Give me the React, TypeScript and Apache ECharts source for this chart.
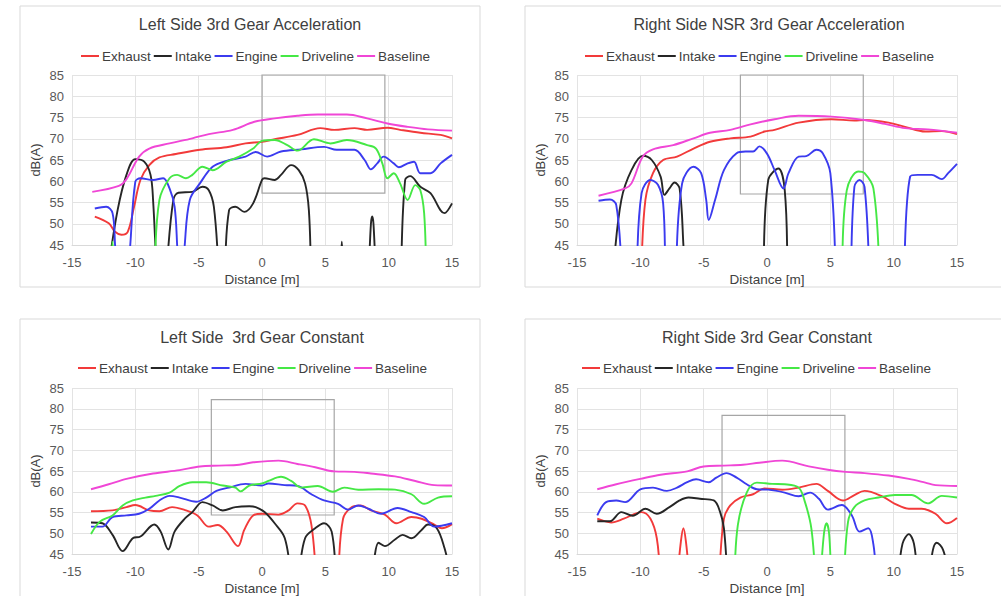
import React, { useEffect, useRef } from 'react';
import * as echarts from 'echarts';

type P = [number, number] | null;

const seriesNames = ['Exhaust', 'Intake', 'Engine', 'Driveline', 'Baseline'];
const seriesColors = ['#f23a3a', '#262626', '#3b3bef', '#45e845', '#f046d6'];
const panelTitles = [
  'Left Side 3rd Gear Acceleration',
  'Right Side NSR 3rd Gear Acceleration',
  'Left Side  3rd Gear Constant',
  'Right Side 3rd Gear Constant',
];
const xMin = -15, xMax = 15, xStep = 5;
const yMin = 45, yMax = 85, yStep = 5;

// highlight boxes [x1, y1, x2, y2]
const boxes: number[][] = [
  [0, 85, 9.7, 57.2],
  [-2.1, 85, 7.6, 57],
  [-4.0, 82.2, 5.7, 54.4],
  [-3.55, 78.4, 6.15, 50.6],
];

// ---------- Panel 1: Left Side 3rd Gear Acceleration ----------
const exhaust1: P[] = [[-13.2,51.7],[-12.1,50.1],[-11.6,48.1],[-11.1,47.4],[-10.6,48.1],[-10.1,54],[-9.6,60.3],[-8.9,63.8],[-8.1,65.6],[-6.8,66.4],[-4.9,67.4],[-2.8,68],[-1.3,68.9],[0,69.3],[1,69.9],[2.8,70.9],[4.6,72.5],[5.7,72.1],[7.3,72.5],[8.3,72.1],[9.9,72.6],[10.9,72.1],[12.5,71.4],[14.1,70.9],[15,70.1]];
const intake1: P[] = [[-12.1,40],[-11.4,53.2],[-10.7,61.5],[-10,65.2],[-9.3,64.6],[-8.8,61.5],[-8.6,55.6],[-8.35,40],null,[-7.5,40],[-7,55.6],[-6.6,57.3],[-5.5,57.5],[-4.7,58.7],[-4.2,57.9],[-3.8,54],[-3.45,40],null,[-2.9,40],[-2.6,53.2],[-2.1,54],[-1.4,52.8],[-0.7,54.8],[0,60.3],[0.2,60.7],[1,60.3],[1.5,61.5],[2.3,63.8],[2.9,62.6],[3.4,59.5],[3.7,53.2],[3.85,40],null,[6.2,40],[6.3,45.8],[6.4,40],null,[8.45,40],[8.6,50],[8.7,51.7],[8.8,50],[8.95,40],null,[11,40],[11.3,60.3],[11.7,61.2],[12.5,58.7],[13.3,57.2],[14.4,52.5],[15,54.8]];
const engine1: P[] = [[-13.2,53.6],[-12.3,54],[-11.8,52.5],[-11.6,45],[-11.5,40],null,[-10.5,40],[-10.4,45],[-10,59.9],[-9.6,60.7],[-8.6,60.3],[-7.8,60.7],[-7.3,58.3],[-6.9,54],[-6.7,45],[-6.65,40],null,[-6.15,40],[-6.1,45],[-5.7,55.6],[-4.9,59.5],[-3.9,63.4],[-2.8,64.8],[-1.3,65.8],[-0.5,66.9],[0.4,65.8],[1.5,67],[3.1,67.5],[4.9,68.1],[5.9,67.4],[7.3,67.4],[8.1,65],[8.6,62.8],[9.1,64.2],[9.6,65.8],[10.4,64.2],[10.8,63.3],[11.5,64.2],[12,64.6],[12.5,61.9],[13.3,61.9],[14.1,64.2],[15,66.2]];
const driveline1: P[] = [[-11.9,40],[-11.8,45.8],[-11.7,40],null,[-8.45,40],[-8.1,55.6],[-7.3,60.7],[-6.7,61.5],[-6,60.7],[-5.5,61.5],[-4.7,63.4],[-3.9,62.6],[-2.8,64.6],[-1.8,65.8],[-0.7,67.7],[0,69.5],[1,69.7],[2,68.5],[2.8,67.2],[4.1,69.9],[5.4,68.9],[6.7,69.7],[8.3,68.5],[9,67.7],[9.5,64.2],[9.9,60.7],[10.4,61.9],[10.9,59.5],[11.5,55.6],[12.1,59.1],[12.5,57.9],[12.8,52.5],[12.95,40]];
const baseline1: P[] = [[-13.4,57.5],[-11.3,58.9],[-10.7,60.5],[-9.7,65.8],[-8.9,67.7],[-7.3,68.9],[-5.5,70.1],[-4.2,71.1],[-2.3,72.1],[-0.6,74],[1,74.8],[2.8,75.4],[4.4,75.7],[6.7,75.7],[8.3,74.8],[9.9,73.6],[11.5,72.8],[13.1,72.2],[15,71.9]];

// ---------- Panel 2: Right Side NSR 3rd Gear Acceleration ----------
const exhaust2: P[] = [[-9.9,40],[-9.6,55.6],[-9,61.9],[-8.2,65],[-7.1,65.8],[-5.8,67.7],[-4.5,69.3],[-2.9,70.1],[-1.3,70.5],[-0.2,71.7],[0.6,72.1],[2.5,73.8],[5.1,74.6],[6.9,74.3],[7.7,74.4],[9.6,73.8],[10.9,72.8],[12.5,71.7],[13.8,71.8],[15,71.1]];
const intake2: P[] = [[-12.1,40],[-11.5,55.6],[-10.7,62.6],[-9.8,66],[-9.1,65],[-8.4,61.1],[-8.1,56.8],[-7.7,58.3],[-7.3,59.7],[-6.9,58.3],[-6.6,45],[-6.55,40],null,[-0.25,40],[0.1,60.3],[0.9,63],[1.4,57.9],[1.6,40]];
const engine2: P[] = [[-13.3,55.4],[-12.4,55.7],[-11.9,54.4],[-11.5,40],null,[-10.25,40],[-9.9,57.2],[-9.2,60.3],[-8.6,59.1],[-8.2,54.8],[-8.05,40],null,[-7.15,40],[-6.7,59.5],[-5.8,63.4],[-5.2,61.9],[-4.8,55.6],[-4.6,50.9],[-4.1,55.6],[-3.4,62.6],[-2.4,66.6],[-1.7,67],[-1.1,67],[-0.6,68.2],[0,66.5],[0.6,62.6],[1.3,58.3],[1.7,61.9],[2.5,65.8],[3.1,65.9],[3.9,67.4],[4.4,66.6],[5,61.9],[5.4,40],null,[6.65,40],[6.9,58.7],[7.3,60.3],[7.7,58.7],[8.05,40],null,[10.85,40],[11.3,61.1],[11.9,61.5],[13,61.5],[13.8,60.5],[14.3,61.9],[15,64.1]];
const driveline2: P[] = [[5.95,40],[6.3,57.9],[7.2,62.3],[7.7,61.9],[8.4,58.3],[8.85,40]];
const baseline2: P[] = [[-13.3,56.6],[-11.2,58.3],[-10.7,59.5],[-9.8,65.8],[-9,67.5],[-7.4,68.5],[-5.8,70.1],[-4.5,71.4],[-2.9,72.1],[-1.3,73.4],[0.6,74.6],[2.5,75.4],[5.1,75.2],[7.7,74.4],[9.3,73.5],[10.9,72.5],[12.7,72.2],[15,71.4]];

// ---------- Panel 3: Left Side 3rd Gear Constant ----------
const exhaust3: P[] = [[-13.5,55.3],[-11.8,55.5],[-10.7,56.3],[-10,56.8],[-8.9,55.5],[-8.1,55.3],[-7.1,56.3],[-6,55.5],[-5.1,54.3],[-4.2,51.6],[-3.5,52],[-2.8,50.4],[-1.9,46.9],[-1.4,50.8],[-0.7,54.3],[0,54.7],[1.3,54.5],[2.1,55.5],[2.8,57.2],[3.4,56.7],[3.9,52],[4.25,40],null,[6.05,40],[6.4,53.5],[7.1,56.3],[7.8,56.7],[8.6,55.5],[9.7,54.5],[10.6,52.4],[11.8,53.9],[12.6,53.5],[13.6,52.1],[14.2,51.2],[15,52.2]];
const intake3: P[] = [[-13.5,52.6],[-12.6,52.4],[-11.8,49.6],[-11,45.7],[-10.2,48.8],[-9.6,49.2],[-8.5,52.1],[-8,50.4],[-7.4,46.1],[-6.9,50.4],[-6.1,53.5],[-5.5,55.1],[-4.7,57.5],[-3.9,56.7],[-3.1,55.5],[-2.1,56.3],[-1,56.5],[-0.5,56.3],[0.2,55.1],[1,52.4],[1.8,48.8],[2.25,40],null,[2.95,40],[3.4,48.8],[4.2,51.2],[4.9,52.4],[5.5,50.4],[5.8,40],null,[8.75,40],[9.2,47.7],[9.7,46.9],[10.5,48.5],[11.1,49.6],[11.8,48.8],[12.6,50.8],[13.1,52.1],[13.8,51.2],[14.4,46.5],[14.9,40]];
const engine3: P[] = [[-13.5,51.6],[-12.6,51.6],[-11.8,53.9],[-10.7,54.3],[-9.7,54.7],[-8.9,55.9],[-8.1,57.9],[-7.3,59],[-6.5,58.6],[-5.2,57.6],[-4.4,58.6],[-3.6,60.2],[-2.6,61],[-1.3,61.9],[0,61.5],[0.5,62],[1.8,61.6],[2.8,61.4],[3.9,59.4],[4.9,57.9],[6,57.1],[6.8,55.7],[7.6,56.7],[8.4,55.9],[9.4,54.7],[10.7,56.1],[11.8,55.1],[12.8,53.9],[13.6,51.6],[15,52.4]];
const driveline3: P[] = [[-13.5,49.8],[-12.8,52.8],[-11.8,54.3],[-11,56.7],[-10.2,57.9],[-9.2,58.6],[-8.4,59],[-7.3,59.8],[-6.5,61.4],[-5.5,62.3],[-4.4,62.3],[-3.1,61.5],[-2.1,61],[-1.7,60.1],[-1,61.5],[0,62],[0.5,62.6],[1.5,63.6],[2.3,62.6],[3.1,61],[4.4,61.4],[5.6,60],[6.5,61],[7.6,60.5],[9.2,60.6],[10.5,60.5],[11.8,59.4],[12.8,57.1],[13.9,58.6],[15,58.9]];
const baseline3: P[] = [[-13.5,60.6],[-12.1,61.8],[-10.7,63.1],[-8.6,64.4],[-6.5,65.2],[-4.9,66.1],[-3.4,66.3],[-1.8,66.5],[-0.7,67.1],[1.3,67.5],[2.8,66.7],[4.2,65.9],[5.7,64.9],[7.3,64.8],[8.6,64.4],[10.5,63.7],[12.1,62.6],[13.6,61.6],[15,61.5]];

// ---------- Panel 4: Right Side 3rd Gear Constant ----------
const exhaust4: P[] = [[-13.4,53.5],[-12.3,52.6],[-11.3,53.5],[-9.9,55.1],[-9.2,53.5],[-8.7,48.8],[-8.45,40],null,[-7.05,40],[-6.8,48],[-6.6,51.2],[-6.4,48],[-6.15,40],null,[-3.75,40],[-3.4,53.5],[-2.9,56.7],[-2.1,58.6],[-1.1,59.4],[-0.2,60.8],[1.2,60.5],[2.5,61],[3.9,61.9],[4.8,60.2],[6,57.9],[6.9,59.2],[7.7,60.2],[9.1,58.9],[10.1,57.1],[11.2,55.9],[12.2,55.9],[13.3,54.7],[14.2,52.4],[15,53.7]];
const intake4: P[] = [[-13.4,52.9],[-12.4,52.9],[-11.5,55.1],[-10.6,54.2],[-9.6,55.9],[-8.7,54.7],[-7.7,56.3],[-6.9,57.9],[-6.2,58.6],[-5.3,58.3],[-4.2,57.9],[-3.7,55.1],[-3.4,51.2],[-3.15,40],null,[10.4,40],[10.7,47.5],[11.2,49.8],[11.6,47.5],[11.85,40],null,[12.85,40],[13.1,46],[13.4,47.7],[13.9,46],[14.35,40]];
const engine4: P[] = [[-13.4,54.3],[-12.7,57.5],[-11.9,57.9],[-11.2,57.5],[-10,60.6],[-9,61],[-7.9,60.2],[-7.1,61],[-6.3,62.3],[-5.6,63],[-4.6,62.3],[-4,63.4],[-3.2,64.5],[-2.4,63.4],[-1.6,61.8],[-0.8,60.6],[0.1,60.5],[1.4,59.8],[2.5,58.9],[3.4,59.8],[4.1,58.3],[4.8,55.7],[5.9,56.8],[6.7,54.3],[7.3,50.4],[8,51.2],[8.4,47.3],[8.6,40]];
const driveline4: P[] = [[-2.55,40],[-2.3,52],[-1.6,59.8],[-0.8,62.2],[0.4,61.9],[1.4,61.8],[2.5,61],[3,57.5],[3.5,51.2],[3.8,40],null,[4.25,40],[4.5,50],[4.7,52.4],[4.9,50],[5.05,40],null,[6.1,40],[6.4,52.8],[6.9,56.3],[7.7,57.9],[8.8,58.6],[10.1,59.2],[11.4,59.2],[12.7,57.2],[13.8,59],[15,58.6]];
const baseline4: P[] = [[-13.4,60.6],[-11.9,61.8],[-10,63.1],[-8.4,64.1],[-6.3,64.9],[-5,66.1],[-3.4,66.3],[-1.9,66.5],[-0.6,67],[1.2,67.5],[3.3,66.1],[4.8,65.3],[6.2,64.8],[7.7,64.5],[9.6,63.9],[11.2,63.1],[12.5,62.2],[13.3,61.6],[15,61.4]];

const panelData: P[][][] = [
  [exhaust1, intake1, engine1, driveline1, baseline1],
  [exhaust2, intake2, engine2, driveline2, baseline2],
  [exhaust3, intake3, engine3, driveline3, baseline3],
  [exhaust4, intake4, engine4, driveline4, baseline4],
];

// layout (pixels)
const grids = [
  { left: 72, top: 75, width: 380, height: 170 },
  { left: 577, top: 75, width: 380, height: 170 },
  { left: 72, top: 388, width: 380, height: 170 },
  { left: 577, top: 388, width: 380, height: 170 },
];
const frames = [
  { x: 20, y: 6, w: 460, h: 281 },
  { x: 525, y: 6, w: 500, h: 281 },
  { x: 20, y: 319, w: 460, h: 290 },
  { x: 525, y: 319, w: 500, h: 290 },
];
const titlePos = [
  { x: 250, y: 24 },
  { x: 769, y: 24 },
  { x: 262, y: 337 },
  { x: 767, y: 337 },
];
const legendPos = [
  { left: 81, top: 49 },
  { left: 585, top: 49 },
  { left: 78, top: 361 },
  { left: 582, top: 361 },
];

const FONT = '"Liberation Sans", Arial, sans-serif';

const toData = (a: P[]) => a.map((p) => (p === null ? ['-', '-'] : p));

export default function App() {
  const ref = useRef<HTMLDivElement>(null);
  useEffect(() => {
    if (!ref.current) return;
    const chart = echarts.init(ref.current, null, { renderer: 'svg' });
    const xAxes: any[] = [];
    const yAxes: any[] = [];
    const series: any[] = [];
    const legends: any[] = [];
    const graphics: any[] = [];

    grids.forEach((g, i) => {
      xAxes.push({
        gridIndex: i, type: 'value', min: xMin, max: xMax, interval: xStep,
        name: 'Distance [m]', nameLocation: 'middle', nameGap: 27,
        nameTextStyle: { color: '#404040', fontSize: 13.5, fontFamily: FONT },
        axisLine: { show: true, lineStyle: { color: '#d9d9d9' } },
        axisTick: { show: false },
        axisLabel: { color: '#595959', fontSize: 13, fontFamily: FONT, margin: 11 },
        splitLine: { show: true, lineStyle: { color: '#e3e3e3' } },
      });
      yAxes.push({
        gridIndex: i, type: 'value', min: yMin, max: yMax, interval: yStep,
        name: 'dB(A)', nameLocation: 'middle', nameGap: 30, nameRotate: 90,
        nameTextStyle: { color: '#404040', fontSize: 13, fontFamily: FONT },
        axisLine: { show: false }, axisTick: { show: false },
        axisLabel: { color: '#595959', fontSize: 13, fontFamily: FONT, margin: 8 },
        splitLine: { show: true, lineStyle: { color: '#e3e3e3' } },
      });
      panelData[i].forEach((d, k) => {
        const s: any = {
          name: seriesNames[k], type: 'line', xAxisIndex: i, yAxisIndex: i,
          data: toData(d), smooth: 0.35, symbol: 'none', showSymbol: false,
          connectNulls: false, clip: true,
          lineStyle: { color: seriesColors[k], width: 1.9 },
          itemStyle: { color: seriesColors[k] },
          z: 2 + k,
        };
        if (k === 4) {
          const b = boxes[i];
          s.markArea = {
            silent: true,
            itemStyle: { color: 'rgba(0,0,0,0)', borderColor: '#a6a6a6', borderWidth: 1.2 },
            data: [[{ coord: [b[0], b[1]] }, { coord: [b[2], b[3]] }]],
          };
        }
        series.push(s);
      });
      legends.push({
        left: legendPos[i].left, top: legendPos[i].top, orient: 'horizontal', padding: 0,
        data: seriesNames, icon: 'rect', itemWidth: 18, itemHeight: 2, itemGap: 3,
        selectedMode: false,
        textStyle: { color: '#404040', fontSize: 13.5, fontFamily: FONT, padding: [0, 0, 0, -2] },
      });
      const f = frames[i];
      graphics.push({
        type: 'rect', shape: { x: f.x, y: f.y, width: f.w, height: f.h },
        style: { fill: 'none', stroke: '#d9d9d9', lineWidth: 1 }, silent: true, z: -1,
      });
      graphics.push({
        type: 'text', x: titlePos[i].x, y: titlePos[i].y,
        style: { text: panelTitles[i], fill: '#404040', font: `16px ${FONT}`, align: 'center', verticalAlign: 'middle' },
      });
    });

    chart.setOption({
      animation: false,
      backgroundColor: '#ffffff',
      grid: grids.map((g) => ({ ...g, containLabel: false })),
      xAxis: xAxes,
      yAxis: yAxes,
      legend: legends,
      series,
      graphic: graphics,
    });
    return () => chart.dispose();
  }, []);
  return (
    <div
      ref={ref}
      style={{ position: 'absolute', left: 0, top: 0, width: 1001, height: 596, background: '#fff' }}
    />
  );
}
